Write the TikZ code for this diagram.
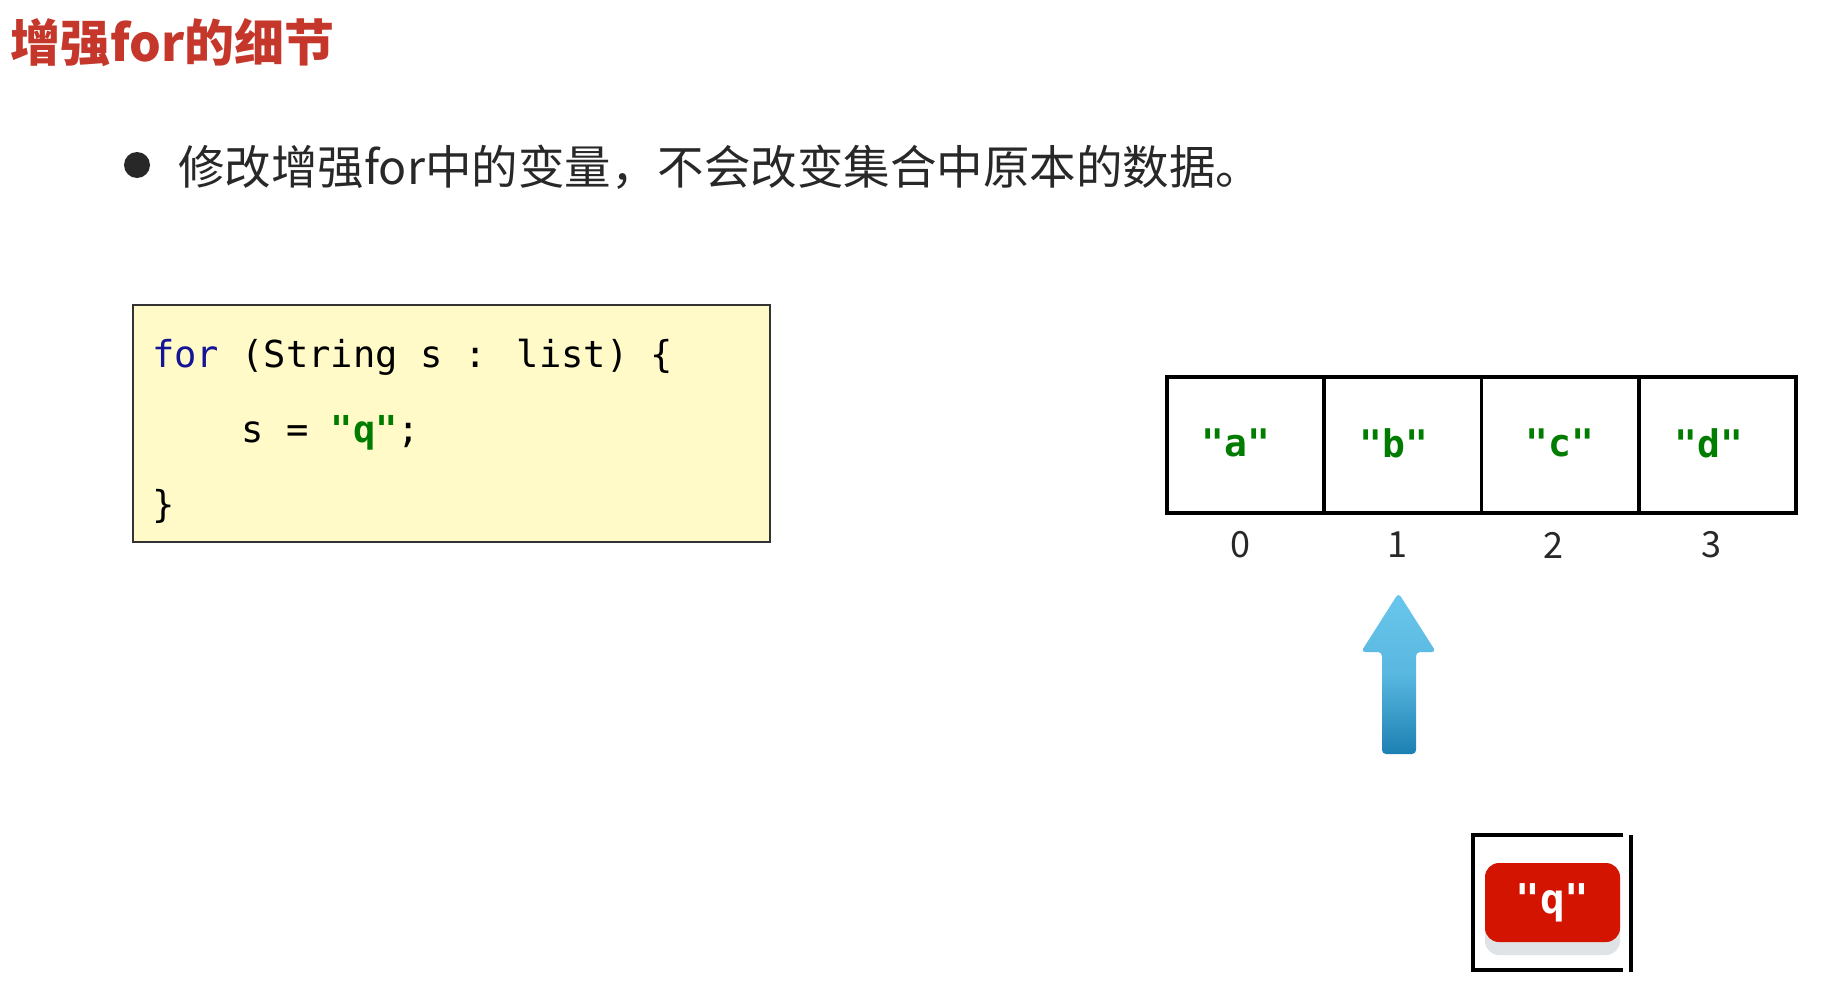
\documentclass[tikz,border=0pt]{standalone}
\usepackage{fontspec}
\newfontfamily\cjk{Noto Sans CJK SC}
\newfontfamily\mono{DejaVu Sans Mono}
\definecolor{titlered}{RGB}{196,55,42}
\definecolor{codebg}{RGB}{255,250,200}
\definecolor{kwblue}{RGB}{20,20,150}
\definecolor{strgreen}{RGB}{0,125,0}
\definecolor{qred}{RGB}{210,20,0}
\definecolor{shadowgray}{RGB}{224,227,229}
\definecolor{arrowtop}{RGB}{105,198,236}
\definecolor{arrowbot}{RGB}{28,128,178}
\definecolor{txtgray}{RGB}{40,40,40}
\tikzset{
  codeline/.style={anchor=base west, inner sep=0pt, font=\mono\fontsize{37.1}{40}\selectfont},
  cellbox/.style={draw=black, line width=3.5pt, minimum width=157.25pt, minimum height=136pt, inner sep=0pt},
  celltext/.style={font=\mono\bfseries\fontsize{38}{40}\selectfont, text=strgreen, inner sep=0pt},
  idx/.style={font=\cjk\fontsize{36}{40}\selectfont, text=txtgray, inner sep=0pt},
  frameline/.style={line width=4pt, black}
}
\begin{document}
\begin{tikzpicture}[x=1pt,y=-1pt]
\useasboundingbox (0,0) rectangle (1825,996);
\fill[white] (0,0) rectangle (1825,996);
% title
\node[anchor=west, inner sep=0pt, text=titlered, font=\cjk\bfseries\fontsize{50}{56}\selectfont] (title) at (10,43) {增强for的细节};
% bullet
\fill[txtgray] (137,165) circle (13);
\node[anchor=west, inner sep=0pt, text=txtgray, font=\cjk\fontsize{46.5}{52}\selectfont] (bullet) at (178,167) {修改增强for中的变量，不会改变集合中原本的数据。};
% code box
\node[draw=black!80, line width=2pt, fill=codebg, minimum width=637pt, minimum height=237pt, inner sep=0pt] (code) at (451.5,423.5) {};
\node[codeline] (l1) at (152,367) {\textcolor{kwblue}{for} (String s : list) \{};
\node[codeline] (l2) at (152,442) {\phantom{for }s = \textcolor{strgreen}{\bfseries "q"};};
\node[codeline] (l3) at (152,517) {\}};
% array
\node[cellbox] (c0) at (1245.6,445) {};
\node[cellbox] (c1) at (1402.9,445) {};
\node[cellbox] (c2) at (1560.1,445) {};
\node[cellbox] (c3) at (1717.4,445) {};
\node[celltext] (t0) at (1236,443) {"a"};
\node[celltext] (t1) at (1394,443) {"b"};
\node[celltext] (t2) at (1560,443) {"c"};
\node[celltext] (t3) at (1709,443) {"d"};
\node[idx] (i0) at (1240,545) {0};
\node[idx] (i1) at (1397,545) {1};
\node[idx] (i2) at (1553,545) {2};
\node[idx] (i3) at (1711,545) {3};
% arrow
\shade[top color=arrowtop, bottom color=arrowbot, middle color=arrowtop!80!arrowbot, rounded corners=4pt]
  (1398.5,593) -- (1436,652) -- (1416,652) -- (1416,754) -- (1382,754) -- (1382,652) -- (1361,652) -- cycle;
% q box
\coordinate (fa) at (1473,835);
\coordinate (fb) at (1623,835);
\coordinate (fc) at (1623,970);
\coordinate (fd) at (1473,970);
\draw[frameline] (fb) -- (fa) -- (fd) -- (fc);
\draw[frameline] (1631,835) -- (1631,972);
\fill[shadowgray, rounded corners=14pt] (1485,876) rectangle (1620,955);
\node[fill=qred, rounded corners=14pt, minimum width=135pt, minimum height=79pt, inner sep=0pt, text=white, font=\mono\bfseries\fontsize{41}{44}\selectfont] (q) at (1552.5,902.5) {"q"};
\end{tikzpicture}
\end{document}
